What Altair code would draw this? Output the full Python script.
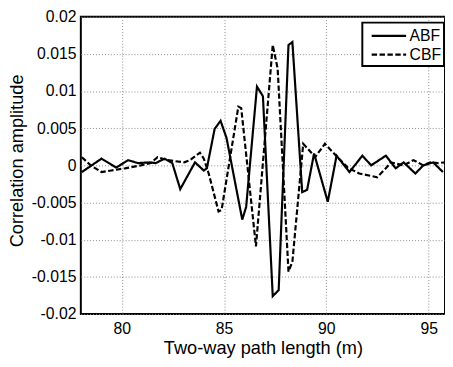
import altair as alt
import pandas as pd

# ABF (solid) trace
abf_x = [78.05, 79.01, 79.73, 80.31, 80.79, 81.37, 81.66, 82.09, 82.47, 82.86,
         83.58, 84.01, 84.16, 84.54, 84.83, 85.12, 85.89, 86.08, 86.61, 86.90,
         87.38, 87.67, 88.15, 88.34, 88.82, 89.06, 89.40, 90.07, 90.50, 91.13,
         91.76, 92.19, 92.91, 93.39, 93.78, 94.35, 94.74, 95.22, 95.70]
abf_y = [-0.0009, 0.0009, -0.0003, 0.0007, 0.0003, 0.0004, 0.0003, 0.0009, 0.0003, -0.0032,
         0.0004, -0.0007, -0.0004, 0.0049, 0.0060, 0.0037, -0.0073, -0.0056, 0.0106, 0.0093,
         -0.0176, -0.0168, 0.0162, 0.0166, -0.0036, -0.0033, 0.0016, -0.0049, 0.0013, -0.0009,
         0.0013, 0.0000, 0.0013, -0.0004, 0.0004, -0.0011, 0.0000, 0.0004, -0.0009]

# CBF (dashed) trace
cbf_x = [78.05, 78.48, 79.01, 79.49, 80.16, 80.93, 81.42, 81.75, 82.23, 83.05,
         83.34, 83.82, 84.01, 84.25, 84.73, 84.88, 85.70, 85.84, 86.56, 87.38,
         87.62, 88.15, 88.34, 88.87, 89.11, 89.45, 89.93, 90.55, 91.04, 91.61,
         92.48, 92.91, 93.15, 93.78, 94.26, 94.74, 95.08, 95.46, 95.80]
cbf_y = [0.0011, 0.0000, -0.0009, -0.0007, -0.0004, 0.0000, 0.0003, 0.0011, 0.0007, 0.0004,
         0.0007, 0.0017, 0.0009, -0.0011, -0.0062, -0.0060, 0.0079, 0.0077, -0.0109, 0.0162,
         0.0130, -0.0143, -0.0130, 0.0029, 0.0022, 0.0011, 0.0029, 0.0011, -0.0003, -0.0011,
         -0.0016, -0.0004, 0.0004, 0.0000, 0.0007, 0.0000, 0.0004, 0.0003, 0.0004]

series = ["ABF", "CBF"]
x_ticks = [80, 85, 90, 95]
y_ticks = [-0.02, -0.015, -0.01, -0.005, 0, 0.005, 0.01, 0.015, 0.02]

df = pd.concat([
    pd.DataFrame({"x": abf_x, "y": abf_y, "s": series[0]}),
    pd.DataFrame({"x": cbf_x, "y": cbf_y, "s": series[1]}),
], ignore_index=True)

FONT = "Liberation Sans"

chart = alt.Chart(df).mark_line(strokeWidth=2.2, color="black", clip=True).encode(
    x=alt.X("x:Q",
            scale=alt.Scale(domain=[78, 95.8], nice=False, zero=False),
            axis=alt.Axis(values=x_ticks, title="Two-way path length (m)",
                          labelFontSize=16, labelFont=FONT, labelColor="black",
                          labelBaseline="alphabetic", labelPadding=20,
                          ticks=False, tickSize=0, domain=False,
                          titleFontSize=18.5, titleFont=FONT, titleFontWeight="normal",
                          titleColor="black", titleBaseline="alphabetic", titleY=40,
                          grid=True, gridColor="#8a8a8a", gridDash=[1, 2], gridWidth=1)),
    y=alt.Y("y:Q",
            scale=alt.Scale(domain=[-0.02, 0.02], nice=False, zero=False),
            axis=alt.Axis(values=y_ticks, title="Correlation amplitude",
                          labelExpr="datum.value == 0 ? '0' : toString(round(datum.value*1000)/1000)",
                          labelFontSize=16, labelFont=FONT, labelColor="black",
                          labelPadding=5, ticks=False, tickSize=0, domain=False,
                          titleFontSize=18.5, titleFont=FONT, titleFontWeight="normal",
                          titleColor="black", titleBaseline="alphabetic", titleAngle=270,
                          titleX=-59, titleY=146, titleAlign="center",
                          grid=True, gridColor="#8a8a8a", gridDash=[1, 2], gridWidth=1)),
    strokeDash=alt.StrokeDash("s:N",
                              scale=alt.Scale(domain=series, range=[[1, 0], [5.5, 2.5]]),
                              legend=alt.Legend(title=None, orient="none",
                                                legendX=286, legendY=6,
                                                symbolType="M-0.444,0H3.444",
                                                symbolSize=324, symbolStrokeWidth=2.2,
                                                symbolStrokeColor="black",
                                                labelFontSize=16, labelFont=FONT,
                                                labelColor="black", labelOffset=24,
                                                padding=3, rowPadding=0,
                                                strokeColor="black", fillColor="white",
                                                cornerRadius=0)),
).properties(
    width=370,
    height=302,
    autosize=alt.AutoSizeParams(type="none"),
    padding={"left": 74, "top": 6, "right": 0, "bottom": 50},
).configure_view(
    stroke="black", strokeWidth=2
).configure_legend(
    strokeWidth=2
)

chart.save("out.html", embed_options={"renderer": "svg", "actions": False})
